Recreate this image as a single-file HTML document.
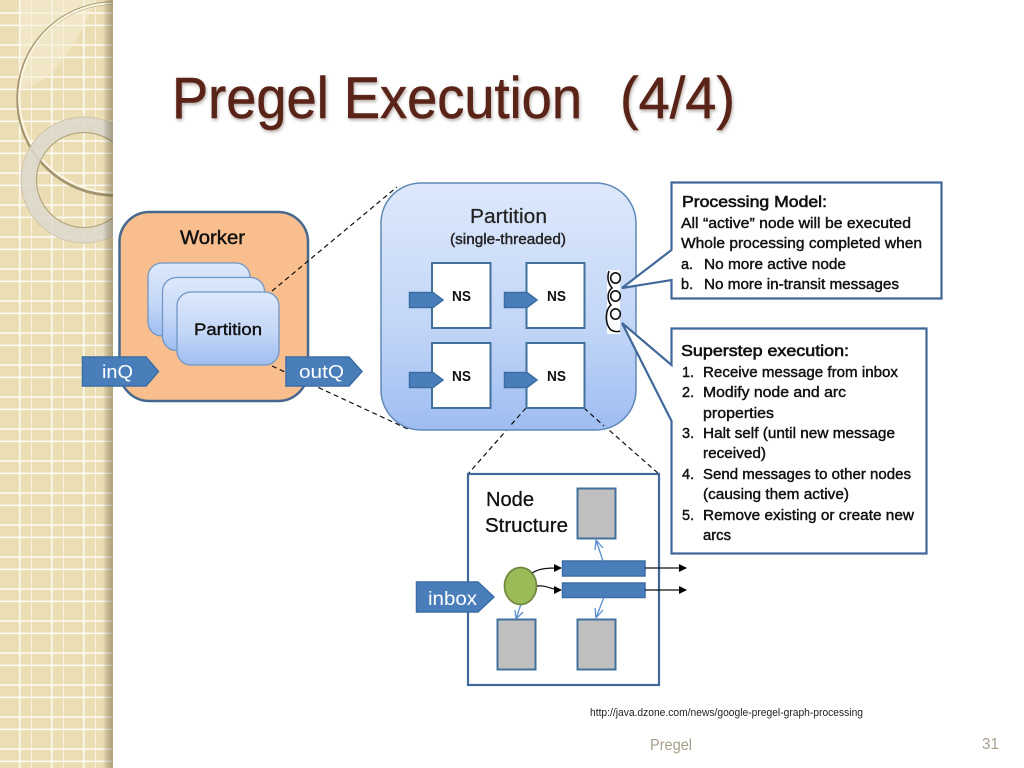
<!DOCTYPE html>
<html lang="en">
<head>
<meta charset="utf-8">
<title>Pregel Execution (4/4)</title>
<style>
html,body{margin:0;padding:0;background:#fff;width:1024px;height:768px;overflow:hidden}
svg{display:block;filter:blur(.3px)}
text{font-family:"Liberation Sans",sans-serif}
.b{font-size:14.5px;fill:#111;stroke:#111;stroke-width:.42px}
.h{font-size:16px;fill:#111;stroke:#111;stroke-width:.6px}
.t{font-size:58px;fill:#5a2318;stroke:#5a2318;stroke-width:.5px;filter:drop-shadow(1px 2px 1.5px rgba(90,70,60,.45))}
</style>
</head>
<body>
<svg xmlns="http://www.w3.org/2000/svg" width="1024" height="768" viewBox="0 0 1024 768">
<defs>
<linearGradient id="pg" x1="0" y1="0" x2="0" y2="1"><stop offset="0" stop-color="#dde8fb"/><stop offset=".55" stop-color="#c4d7f7"/><stop offset="1" stop-color="#9fbdf2"/></linearGradient>
<linearGradient id="side" x1="0" y1="0" x2="1" y2="0"><stop offset="0" stop-color="#000" stop-opacity="0"/><stop offset="1" stop-color="#6b5a30" stop-opacity=".45"/></linearGradient>
<pattern id="grid" width="32" height="32" patternUnits="userSpaceOnUse" x="0" y="0">
<rect width="32" height="32" fill="#ecdeb4"/>
<rect x="19" width="1.5" height="32" fill="#fdfbf3"/><rect x="0" y="12.300" width="32" height="1.500" fill="#fdfbf3"/>
<rect x="31.300" width="1.500" height="32" fill="#fdfbf3"/><rect x="0" y="24.600" width="32" height="1.500" fill="#fdfbf3"/>
</pattern>
<clipPath id="sc"><rect width="113" height="768"/></clipPath>
<marker id="ka" markerWidth="8" markerHeight="8" refX="7" refY="4" orient="auto" markerUnits="userSpaceOnUse"><path d="M0,0L8,4L0,8z" fill="#000"/></marker>
</defs>

<!-- sidebar -->
<rect width="113" height="768" fill="url(#grid)"/>
<g clip-path="url(#sc)">
<path d="M25,88C55,80 80,40 95,0H20V88z" fill="#f6eed6" opacity=".5"/>
<circle cx="114" cy="99" r="96" fill="none" stroke="#a3946d" stroke-width="3.500"/>
<circle cx="114" cy="98" r="94.800" fill="none" stroke="#fbf6e2" stroke-width="2.200"/>
<path fill-rule="evenodd" d="M21,180a63,63 0 1,0 126,0a63,63 0 1,0 -126,0zM36,180a48,48 0 1,0 96,0a48,48 0 1,0 -96,0z" fill="#dcd8cc" fill-opacity=".88"/>
<circle cx="84" cy="180" r="47.500" fill="none" stroke="#b5a780" stroke-width="1.200"/>
<circle cx="84" cy="180" r="63" fill="none" stroke="#cdc5ad" stroke-width="1"/>
</g>
<rect x="103" width="10" height="768" fill="url(#side)"/>

<!-- title -->
<text class="t" x="172" y="118" textLength="410" lengthAdjust="spacingAndGlyphs">Pregel Execution</text>
<text class="t" x="620" y="118" textLength="115" lengthAdjust="spacingAndGlyphs">(4/4)</text>

<!-- worker -->
<rect x="119.500" y="212" width="188.500" height="189" rx="30" fill="#f9be8d" stroke="#46688e" stroke-width="2.500"/>
<text x="180" y="244" font-size="19" fill="#111" stroke="#111" stroke-width=".45" textLength="65" lengthAdjust="spacingAndGlyphs">Worker</text>
<rect x="148" y="263" width="102" height="73" rx="14" fill="url(#pg)" stroke="#7097c6" stroke-width="1.300"/>
<rect x="162.500" y="277.500" width="102" height="73" rx="14" fill="url(#pg)" stroke="#7097c6" stroke-width="1.300"/>
<rect x="177" y="292" width="102" height="73" rx="14" fill="url(#pg)" stroke="#7097c6" stroke-width="1.300"/>
<text x="194" y="335" font-size="16.500" fill="#111" stroke="#111" stroke-width=".4" textLength="68" lengthAdjust="spacingAndGlyphs">Partition</text>

<!-- dashed zoom lines -->
<path d="M272,291L397,187M272,366L410,430M526,408L468,474M584,408L659,474" fill="none" stroke="#111" stroke-width="1.200" stroke-dasharray="5 3.500"/>

<!-- partition big -->
<rect x="381" y="183" width="255" height="247" rx="40" fill="url(#pg)" stroke="#6189b6" stroke-width="1.500"/>
<path d="M526,408L510,426M584,408L604,426" fill="none" stroke="#111" stroke-width="1.200" stroke-dasharray="5 3.500"/>
<text x="470" y="223" font-size="20" fill="#222" stroke="#222" stroke-width=".2" textLength="77" lengthAdjust="spacingAndGlyphs">Partition</text>
<text x="450" y="244" font-size="15" fill="#222" stroke="#222" stroke-width=".4" textLength="116" lengthAdjust="spacingAndGlyphs">(single-threaded)</text>

<!-- NS boxes -->
<g fill="#fff" stroke="#41719c" stroke-width="2">
<rect x="432" y="263" width="58.500" height="65"/>
<rect x="526.500" y="263" width="58" height="65"/>
<rect x="432" y="343" width="58.500" height="65"/>
<rect x="526.500" y="343" width="58" height="65"/>
</g>
<g fill="#4a7ebb" stroke="#3b6ea5" stroke-width="1.500">
<path d="M409.500,292.500H433L443,300L433,307.500H409.500z"/>
<path d="M504.500,292.500H527L537,300L527,307.500H504.500z"/>
<path d="M409.500,372.500H433L443,380L433,387.500H409.500z"/>
<path d="M504.500,372.500H527L537,380L527,387.500H504.500z"/>
</g>
<g font-size="14.500" font-weight="bold" fill="#111">
<text x="452" y="301" textLength="19" lengthAdjust="spacingAndGlyphs">NS</text>
<text x="547" y="301" textLength="19" lengthAdjust="spacingAndGlyphs">NS</text>
<text x="452" y="381" textLength="19" lengthAdjust="spacingAndGlyphs">NS</text>
<text x="547" y="381" textLength="19" lengthAdjust="spacingAndGlyphs">NS</text>
</g>

<!-- chain -->
<rect x="607" y="270" width="13" height="64" fill="#fff"/>
<g fill="none" stroke="#111" stroke-width="1.600">
<ellipse cx="615.500" cy="278" rx="4.800" ry="5.200"/>
<ellipse cx="615.500" cy="296" rx="4.800" ry="5.200"/>
<ellipse cx="615.500" cy="314" rx="4.800" ry="5.200"/>
<path d="M609,271C607,277 608,283 612,288C607,292 607,300 611,305C605,310 605,323 610,329C613,332 618,332 620,331"/>
</g>

<!-- inQ / outQ -->
<path d="M82.500,357H146L158.500,371.500L146,386H82.500z" fill="#4a7ebb" stroke="#3b6ea5" stroke-width="1.500"/>
<text x="102" y="378" font-size="18" fill="#fff" textLength="31" lengthAdjust="spacingAndGlyphs">inQ</text>
<path d="M286,357H349L362,371.500L349,386H286z" fill="#4a7ebb" stroke="#3b6ea5" stroke-width="1.500"/>
<text x="299" y="378" font-size="18" fill="#fff" textLength="45" lengthAdjust="spacingAndGlyphs">outQ</text>

<!-- callouts -->
<path d="M671.500,182.500H941.500V298.500H671.500V280L622,288L671.500,250z" fill="#fff" stroke="#41689a" stroke-width="2.200" stroke-linejoin="miter"/>
<text class="h" x="682" y="207" textLength="145" lengthAdjust="spacingAndGlyphs">Processing Model:</text>
<text class="b" x="681" y="228" textLength="230" lengthAdjust="spacingAndGlyphs">All “active” node will be executed</text>
<text class="b" x="681" y="248" textLength="241" lengthAdjust="spacingAndGlyphs">Whole processing completed when</text>
<text class="b" x="681" y="269">a.</text>
<text class="b" x="704" y="269" textLength="142" lengthAdjust="spacingAndGlyphs">No more active node</text>
<text class="b" x="681" y="289">b.</text>
<text class="b" x="704" y="289" textLength="195" lengthAdjust="spacingAndGlyphs">No more in-transit messages</text>

<path d="M671.500,328.500H926.500V553.500H671.500V421L622,323L671.500,365z" fill="#fff" stroke="#41689a" stroke-width="2.200" stroke-linejoin="miter"/>
<text class="h" x="681" y="356" textLength="168" lengthAdjust="spacingAndGlyphs">Superstep execution:</text>
<text class="b" x="682" y="377">1.</text>
<text class="b" x="703" y="377" textLength="195" lengthAdjust="spacingAndGlyphs">Receive message from inbox</text>
<text class="b" x="682" y="397">2.</text>
<text class="b" x="703" y="397" textLength="143" lengthAdjust="spacingAndGlyphs">Modify node and arc</text>
<text class="b" x="703" y="418" textLength="71" lengthAdjust="spacingAndGlyphs">properties</text>
<text class="b" x="682" y="438">3.</text>
<text class="b" x="703" y="438" textLength="192" lengthAdjust="spacingAndGlyphs">Halt self (until new message</text>
<text class="b" x="703" y="458" textLength="63" lengthAdjust="spacingAndGlyphs">received)</text>
<text class="b" x="682" y="479">4.</text>
<text class="b" x="703" y="479" textLength="208" lengthAdjust="spacingAndGlyphs">Send messages to other nodes</text>
<text class="b" x="703" y="499" textLength="146" lengthAdjust="spacingAndGlyphs">(causing them active)</text>
<text class="b" x="682" y="520">5.</text>
<text class="b" x="703" y="520" textLength="211" lengthAdjust="spacingAndGlyphs">Remove existing or create new</text>
<text class="b" x="703" y="540" textLength="28" lengthAdjust="spacingAndGlyphs">arcs</text>

<!-- node structure -->
<rect x="468" y="474" width="191" height="211" fill="#fff" stroke="#41689a" stroke-width="2.200"/>
<text x="486" y="506" font-size="20" fill="#111" stroke="#111" stroke-width=".3" textLength="48" lengthAdjust="spacingAndGlyphs">Node</text>
<text x="485" y="532" font-size="20" fill="#111" stroke="#111" stroke-width=".3" textLength="83" lengthAdjust="spacingAndGlyphs">Structure</text>
<g fill="#bfbfbf" stroke="#41719c" stroke-width="2">
<rect x="577.500" y="488.500" width="38" height="50"/>
<rect x="497.500" y="619.500" width="38" height="50"/>
<rect x="577.500" y="619.500" width="38" height="50"/>
</g>
<g fill="none" stroke="#5b8fd0" stroke-width="1.300">
<path d="M603,561L596,540M596,540L595,550M596,540L603,548"/>
<path d="M604,597L596,618M596,618L595,608M596,618L603,610"/>
<path d="M521,604L516,619M516,619L515,610M516,619L523,612"/>
</g>
<g fill="#4a7ebb" stroke="#3b6ea5" stroke-width="1.500">
<rect x="562.500" y="561" width="82.500" height="15"/>
<rect x="562.500" y="583" width="82.500" height="14.500"/>
</g>
<ellipse cx="520.500" cy="586" rx="16" ry="18.500" fill="#9bbb59" stroke="#71893f" stroke-width="1.800"/>
<g fill="none" stroke="#111" stroke-width="1.200">
<path d="M645,568H686" marker-end="url(#ka)"/>
<path d="M645,590H686" marker-end="url(#ka)"/>
<path d="M532,573C540,568 548,568 561,568" marker-end="url(#ka)"/>
<path d="M537,586C548,585 551,590 561,590" marker-end="url(#ka)"/>
</g>
<path d="M416.500,582H478L494,597L478,612H416.500z" fill="#4a7ebb" stroke="#3b6ea5" stroke-width="1.500"/>
<text x="428" y="605" font-size="19" fill="#fff" textLength="49" lengthAdjust="spacingAndGlyphs">inbox</text>

<!-- footer -->
<text x="590" y="716" font-size="11" fill="#222" textLength="273" lengthAdjust="spacingAndGlyphs">http://java.dzone.com/news/google-pregel-graph-processing</text>
<text x="650" y="750" font-size="16" fill="#a79f8a" textLength="42" lengthAdjust="spacingAndGlyphs">Pregel</text>
<text x="982" y="749" font-size="16" fill="#a79f8a" textLength="17" lengthAdjust="spacingAndGlyphs">31</text>
</svg>
</body>
</html>
